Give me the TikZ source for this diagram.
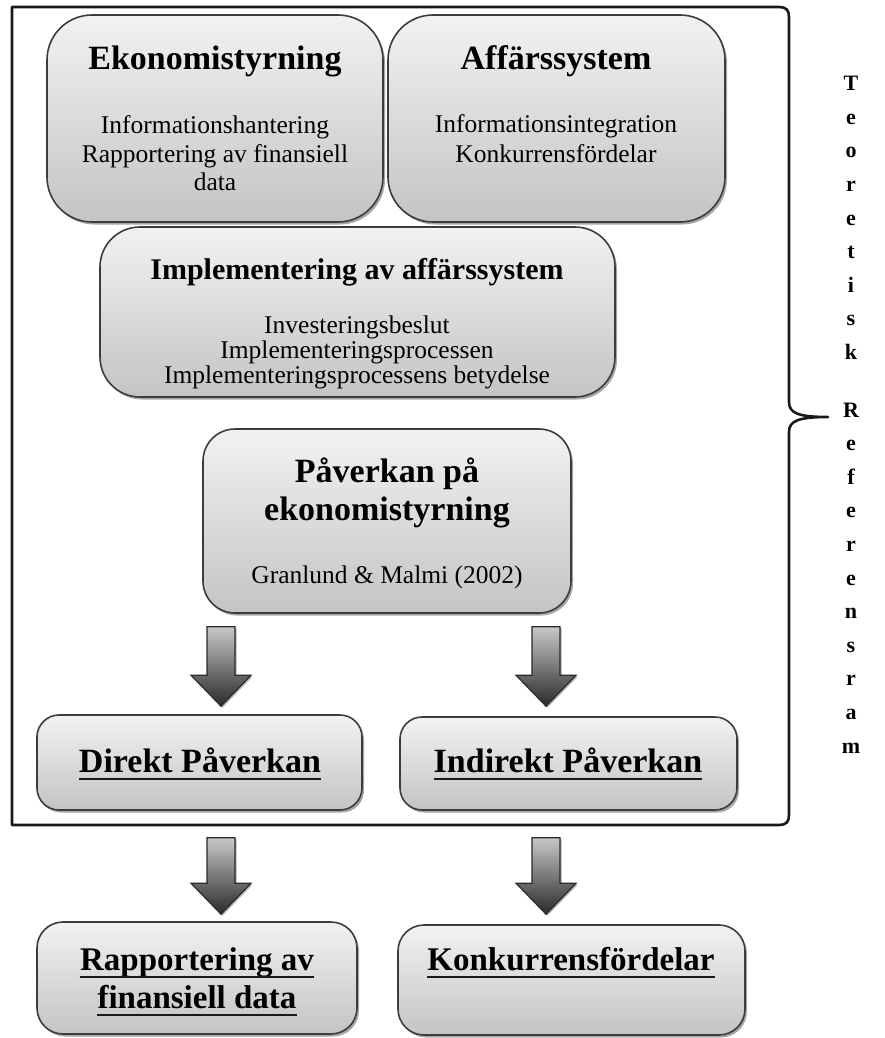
\documentclass[tikz,border=0pt]{standalone}
\usepackage{fontspec}
\setmainfont{Liberation Serif}
\usetikzlibrary{shadows,calc}
\definecolor{boxtop}{HTML}{F2F2F2}
\definecolor{boxbot}{HTML}{C4C4C4}
\definecolor{boxline}{HTML}{3C3C3C}
\definecolor{arrtop}{HTML}{C8C8C8}
\definecolor{arrbot}{HTML}{2A2A2A}
\newcommand\fs[2]{\fontsize{#1}{#2}\selectfont}
\newcommand\blockarrow[2]{%
  \shade[arrowstyle] ([xshift=-14pt]#1) -- ([xshift=14pt]#1)
    -- ([xshift=14pt,yshift=31pt]#2) -- ([xshift=30pt,yshift=31pt]#2)
    -- (#2) -- ([xshift=-30pt,yshift=31pt]#2)
    -- ([xshift=-14pt,yshift=31pt]#2) -- cycle;}
\newcommand\underl[1]{\draw[line width=2.4pt, black!90] ([yshift=-7pt]#1.base west) -- ([yshift=-7pt]#1.base east);}
\tikzset{
  box/.style={draw=boxline, line width=1.6pt, top color=boxtop, bottom color=boxbot,
    inner sep=0pt, rounded corners=#1,
    drop shadow={shadow xshift=2pt, shadow yshift=-2.5pt, opacity=0.35, fill=black}},
  arrowstyle/.style={draw=arrbot, line width=1.2pt, top color=arrtop, bottom color=arrbot,
    drop shadow={shadow xshift=1.5pt, shadow yshift=-1.5pt, opacity=0.3, fill=black}},
  ttl/.style={anchor=base, inner sep=0pt, font=\fs{34}{38}\bfseries},
  sub/.style={anchor=base, inner sep=0pt, font=\fs{25.5}{30}},
  frame/.style={line width=2.6pt, draw=black!90},
}
\begin{document}
\begin{tikzpicture}[x=1pt,y=-1pt]
\useasboundingbox (0,0) rectangle (885,1038);
% outer frame with brace
\draw[frame, line join=round] (779,7) -- (12,7) -- (12,825) -- (779,825)
  .. controls (786,825) and (789,822) .. (789,815) -- (789,432)
  .. controls (789,421) and (798,417) .. (828,417)
  .. controls (798,417) and (789,413) .. (789,402) -- (789,17)
  .. controls (789,10) and (786,7) .. (779,7);
% boxes
\node[box=45pt, minimum width=336pt, minimum height=207pt] (eko) at (215,118.5) {};
\node[box=45pt, minimum width=337pt, minimum height=207pt] (aff) at (556.5,118.5) {};
\node[box=40pt, minimum width=515pt, minimum height=170pt] (impl) at (357.5,312) {};
\node[box=32pt, minimum width=368pt, minimum height=184pt] (pav) at (387,521) {};
\node[box=22pt, minimum width=325pt, minimum height=95pt] (dir) at (199.5,762.5) {};
\node[box=22pt, minimum width=337pt, minimum height=93pt] (ind) at (568.5,763.5) {};
\node[box=26pt, minimum width=320pt, minimum height=112pt] (rap) at (197,978) {};
\node[box=26pt, minimum width=347pt, minimum height=110pt] (kon) at (571.5,980) {};
% texts
\node[ttl] (ekoT) at (215,70) {Ekonomistyrning};
\node[sub] (eko1) at (215,133) {Informationshantering};
\node[sub] (eko2) at (215,162) {Rapportering av finansiell};
\node[sub] (eko3) at (215,190) {data};
\node[ttl] (affT) at (556,70) {Affärssystem};
\node[sub] (aff1) at (556,132) {Informationsintegration};
\node[sub] (aff2) at (556,162) {Konkurrensfördelar};
\node[ttl, font=\fs{30}{34}\bfseries] (implT) at (357,279) {Implementering av affärssystem};
\node[sub] (impl1) at (357,333) {Investeringsbeslut};
\node[sub] (impl2) at (357,358) {Implementeringsprocessen};
\node[sub] (impl3) at (357,383) {Implementeringsprocessens betydelse};
\node[ttl] (pavT1) at (387,482) {Påverkan på};
\node[ttl] (pavT2) at (387,520) {ekonomistyrning};
\node[sub] (pav1) at (387,583) {Granlund \& Malmi (2002)};
\node[ttl] (dirT) at (200,772) {Direkt Påverkan};
\node[ttl] (indT) at (568,772) {Indirekt Påverkan};
\node[ttl, font=\fs{33}{38}\bfseries] (rapT1) at (197,970) {Rapportering av};
\node[ttl, font=\fs{33}{38}\bfseries] (rapT2) at (197,1008) {finansiell data};
\node[ttl, font=\fs{33}{38}\bfseries] (konT) at (571,970) {Konkurrensfördelar};
\underl{dirT}
\underl{indT}
\underl{rapT1}
\underl{rapT2}
\underl{konT}
% side label
\node[anchor=north, inner sep=0pt, align=center, font=\fs{22}{33.6}\bfseries] (side) at (851,76)
  {T\\e\\o\\r\\e\\t\\i\\s\\k\\[24pt]R\\e\\f\\e\\r\\e\\n\\s\\r\\a\\m};
% arrows
\coordinate (xl) at (221,0);
\coordinate (xr) at (546,0);
\coordinate (a1s) at ($(pav.south -| xl)+(0,13)$);
\coordinate (a1e) at ($(dir.north -| xl)+(0,-8)$);
\coordinate (a2s) at ($(pav.south -| xr)+(0,13)$);
\coordinate (a2e) at ($(ind.north -| xr)+(0,-10)$);
\coordinate (a3s) at ($(dir.south -| xl)+(0,27)$);
\coordinate (a3e) at ($(rap.north -| xl)+(0,-7)$);
\coordinate (a4s) at ($(ind.south -| xr)+(0,27)$);
\coordinate (a4e) at ($(kon.north -| xr)+(0,-10)$);
\blockarrow{a1s}{a1e}
\blockarrow{a2s}{a2e}
\blockarrow{a3s}{a3e}
\blockarrow{a4s}{a4e}
\end{tikzpicture}
\end{document}
